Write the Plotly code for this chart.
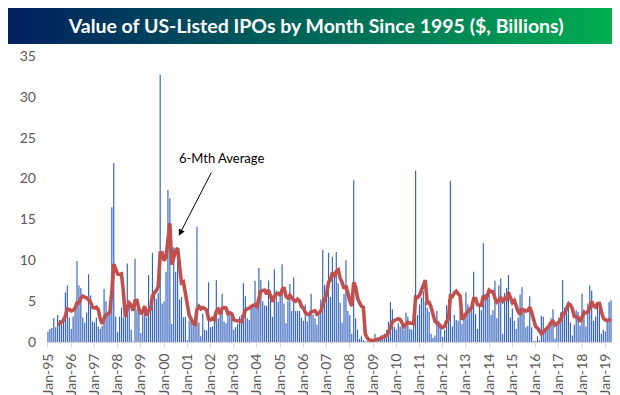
import plotly.graph_objects as go
import pandas as pd

# ---- data (monthly value of US-listed IPOs, $ billions), Jan-1995 .. Apr-2019 ----
v1995 = [1.3, 1.6, 1.7, 2.9, 1.8, 3.3, 2.7, 2.5, 2.7, 6.1, 6.9, 3.0]
v1996 = [1.6, 3.1, 4.2, 9.9, 6.9, 6.6, 3.0, 2.4, 3.6, 8.3, 5.7, 2.5]
v1997 = [2.4, 3.0, 1.9, 1.6, 2.0, 6.5, 5.0, 3.4, 3.8, 16.5, 21.9, 3.1]
v1998 = [1.2, 3.1, 4.2, 3.0, 3.8, 9.6, 5.0, 1.5, 0.1, 10.2, 4.0, 3.6]
v1999 = [1.1, 3.8, 3.6, 3.0, 8.2, 4.4, 10.9, 6.0, 5.3, 6.0, 32.7, 4.7]
v2000 = [5.0, 8.6, 18.6, 17.6, 2.2, 11.6, 8.6, 10.3, 5.2, 5.5, 3.0, 3.1]
v2001 = [0.2, 2.6, 2.4, 2.3, 2.4, 14.1, 2.4, 0.7, 3.5, 1.5, 1.4, 7.3]
v2002 = [1.8, 1.9, 2.5, 7.6, 2.9, 3.8, 5.9, 2.5, 2.3, 3.4, 3.6, 3.1]
v2003 = [1.5, 1.8, 2.2, 3.1, 3.3, 7.2, 5.6, 2.9, 2.7, 4.4, 4.3, 7.5]
v2004 = [4.4, 9.1, 7.6, 5.0, 4.5, 4.4, 7.5, 5.0, 3.1, 8.9, 6.3, 4.9]
v2005 = [5.8, 9.5, 4.7, 2.3, 5.0, 7.1, 3.8, 7.9, 3.8, 3.8, 3.8, 3.0]
v2006 = [2.6, 4.6, 2.5, 3.6, 5.9, 3.4, 2.9, 2.1, 3.3, 5.2, 11.3, 7.0]
v2007 = [6.0, 10.9, 5.5, 10.4, 8.0, 11.0, 7.2, 4.8, 2.4, 5.9, 10.0, 3.8]
v2008 = [3.3, 1.0, 19.8, 2.9, 1.5, 0.4, 0.7, 0.2, 0.1, 0.1, 0.1, 0.1]
v2009 = [0.15, 1.0, 0.3, 0.5, 0.8, 0.8, 1.0, 1.5, 2.5, 4.9, 4.0, 1.9]
v2010 = [1.5, 2.3, 1.9, 2.2, 1.5, 3.6, 3.1, 1.6, 1.5, 2.1, 21.0, 3.3]
v2011 = [4.6, 5.4, 6.2, 5.0, 4.2, 3.7, 1.0, 0.5, 0.8, 3.8, 2.6, 2.3]
v2012 = [0.6, 1.5, 4.5, 5.2, 19.7, 1.9, 3.3, 2.7, 2.6, 3.8, 2.2, 3.4]
v2013 = [6.1, 4.6, 4.2, 5.0, 8.6, 3.4, 1.6, 4.4, 3.9, 12.1, 5.9, 5.8]
v2014 = [5.9, 3.3, 3.9, 7.5, 2.9, 6.9, 7.8, 1.0, 6.0, 6.6, 8.2, 3.0]
v2015 = [4.1, 2.6, 1.6, 3.0, 5.8, 6.7, 3.8, 1.8, 2.0, 5.6, 1.8, 0.1]
v2016 = [0.1, 0.7, 0.2, 3.2, 3.1, 1.6, 1.8, 1.9, 2.9, 4.0, 0.4, 2.2]
v2017 = [3.0, 3.6, 7.6, 4.2, 4.4, 5.0, 2.4, 0.8, 2.1, 3.9, 3.7, 2.0]
v2018 = [5.9, 4.0, 1.9, 4.7, 6.9, 6.3, 2.6, 3.1, 4.6, 4.8, 1.0, 1.5]
v2019 = [1.3, 2.6, 4.9, 5.1]

years = list(range(1995, 2020))
month_names = ["Jan", "Feb", "Mar", "Apr", "May", "Jun",
               "Jul", "Aug", "Sep", "Oct", "Nov", "Dec"]
yearly = [v1995, v1996, v1997, v1998, v1999, v2000, v2001, v2002, v2003,
          v2004, v2005, v2006, v2007, v2008, v2009, v2010, v2011, v2012,
          v2013, v2014, v2015, v2016, v2017, v2018, v2019]

months, values = [], []
for yr, vals in zip(years, yearly):
    for i, v in enumerate(vals):
        months.append(f"{month_names[i]}-{str(yr)[2:]}")
        values.append(v)

tick_labels = [f"Jan-{str(y)[2:]}" for y in years]

# 6-month average series (as labelled on the chart)
avg6 = pd.Series(values).rolling(6).mean()

# ---- figure ----
W, H = 620, 395
ML, MR, MT, MB = 39, 16, 48, 61
PW, PH = W - ML - MR, H - MT - MB

fig = go.Figure()
fig.add_trace(go.Bar(x=months, y=values, marker_color="rgba(52,98,186,0.995)",
                     marker_line_width=0, showlegend=False))
fig.add_trace(go.Scatter(x=months[5:], y=avg6[5:], mode="lines",
                         line=dict(color="#C0504D", width=3.6),
                         showlegend=False))

# gradient title banner (decoration)
def px_to_paper_x(X):
    return (X - ML) / PW

def px_to_paper_y(Y):
    return (H - MB - Y) / PH

c0 = (0, 32, 96)
c1 = (0, 176, 80)
n = 124
shapes = []
for i in range(n):
    t = i / (n - 1)
    col = tuple(round(c0[k] + (c1[k] - c0[k]) * t) for k in range(3))
    x0 = i * W / n
    x1 = (i + 1) * W / n + 0.8
    shapes.append(dict(type="rect", xref="paper", yref="paper",
                       x0=px_to_paper_x(x0), x1=px_to_paper_x(min(x1, W)),
                       y0=px_to_paper_y(36), y1=px_to_paper_y(0),
                       fillcolor=f"rgb{col}", line=dict(width=0),
                       layer="below"))

fig.update_layout(
    width=W, height=H,
    margin=dict(l=ML, r=MR, t=MT, b=MB, pad=0, autoexpand=False),
    paper_bgcolor="white", plot_bgcolor="white",
    bargap=0.4,
    shapes=shapes,
    title=dict(text="Value of US-Listed IPOs by Month Since 1995 ($, Billions)",
               font=dict(family="Lato", size=19.5, color="white", weight="bold"),
               xref="container", x=0.497, xanchor="center",
               yref="container", y=1 - 18 / H, yanchor="middle"),
    font=dict(family="Lato", color="#595959"),
    xaxis=dict(type="category", range=[-0.5, len(months) - 0.5],
               automargin=False,
               tickmode="array", tickvals=tick_labels, ticktext=tick_labels,
               tickangle=-90, ticks="outside", ticklen=5, tickcolor="#d9d9d9",
               showline=True, linecolor="#d9d9d9", linewidth=1,
               showgrid=False, zeroline=False,
               tickfont=dict(family="Lato", size=14, color="#595959")),
    yaxis=dict(range=[0, 35], dtick=5, tick0=0, showgrid=False,
               automargin=False,
               showline=False, zeroline=False, ticks="",
               ticklabelstandoff=10,
               tickfont=dict(family="Lato", size=14, color="#595959")),
    annotations=[
        dict(x=89.6, y=22.5, xref="x", yref="y", text="6-Mth Average",
             showarrow=False, font=dict(family="Lato", size=13, color="black"),
             xanchor="center", yanchor="middle"),
        dict(x=67.6, y=13.0, xref="x", yref="y", text="",
             showarrow=True, axref="x", ayref="y", ax=84.8, ay=20.9,
             arrowhead=2, arrowsize=1.3, arrowwidth=1, arrowcolor="black"),
    ],
)

fig.write_html("out.html")
